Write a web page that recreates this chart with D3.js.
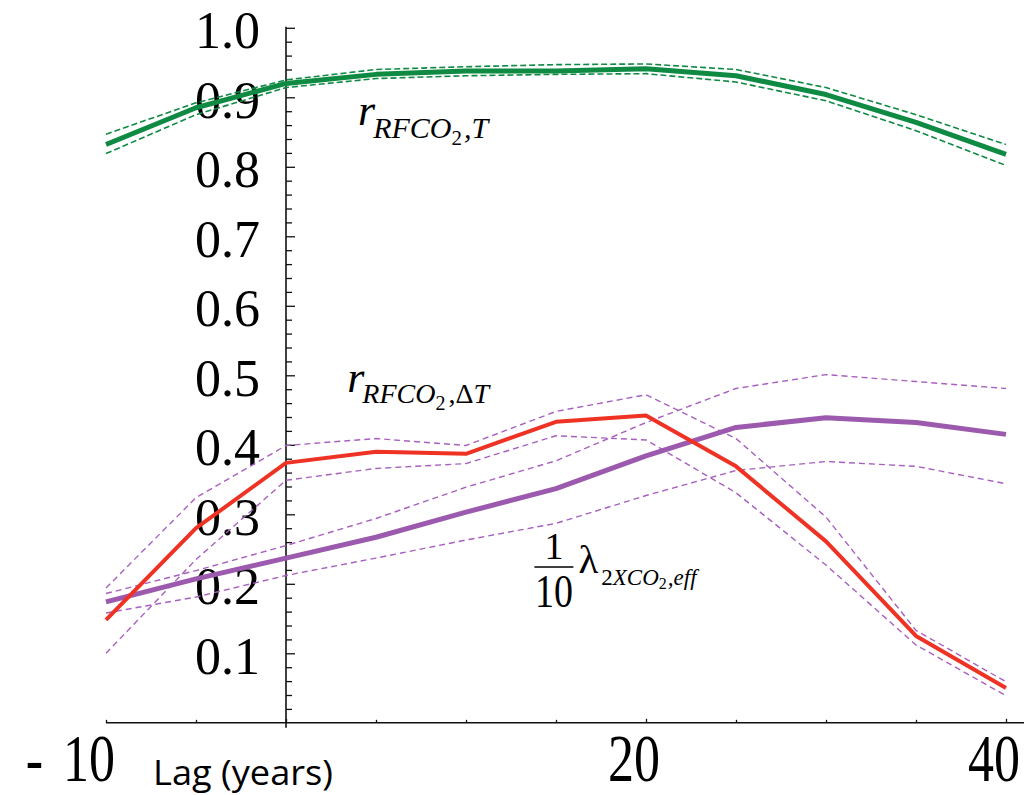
<!DOCTYPE html>
<html>
<head>
<meta charset="utf-8">
<script src="https://cdn.jsdelivr.net/npm/d3@7"></script>
<style>
  body { margin: 0; background: #fff; }
  svg { display: block; }
  .serif { font-family: "Liberation Serif", "DejaVu Serif", serif; }
</style>
</head>
<body>
<div id="chart"></div>
<script>
// lag values (years)
var lags = [-10, -5, 0, 5, 10, 15, 20, 25, 30, 35, 40];

// correlation RF_CO2 vs T, with bounds
var rT      = [0.832, 0.885, 0.920, 0.933, 0.938, 0.938, 0.941, 0.931, 0.904, 0.864, 0.818];
var rTUpper = [0.847, 0.892, 0.925, 0.940, 0.944, 0.947, 0.948, 0.940, 0.914, 0.875, 0.832];
var rTLower = [0.819, 0.875, 0.914, 0.927, 0.931, 0.933, 0.934, 0.922, 0.895, 0.852, 0.802];

// correlation RF_CO2 vs delta T, with bounds
var rDT      = [0.148, 0.280, 0.374, 0.390, 0.387, 0.433, 0.442, 0.369, 0.261, 0.125, 0.050];
var rDTUpper = [0.194, 0.324, 0.399, 0.409, 0.399, 0.448, 0.472, 0.409, 0.296, 0.133, 0.059];
var rDTLower = [0.100, 0.235, 0.349, 0.366, 0.373, 0.413, 0.407, 0.331, 0.227, 0.112, 0.039];

// 1/10 lambda_2xCO2,eff, with bounds
var lam      = [0.174, 0.207, 0.237, 0.267, 0.303, 0.337, 0.384, 0.425, 0.439, 0.432, 0.415];
var lamUpper = [0.186, 0.219, 0.255, 0.294, 0.339, 0.377, 0.432, 0.481, 0.501, 0.491, 0.481];
var lamLower = [0.158, 0.181, 0.212, 0.237, 0.263, 0.287, 0.327, 0.363, 0.376, 0.369, 0.344];

var xTickLabels = [-10, 20, 40];
var yTickLabels = [0.1, 0.2, 0.3, 0.4, 0.5, 0.6, 0.7, 0.8, 0.9, 1.0];

var svgWidth = 1024;
var svgHeight = 795;

var svg = d3.select("#chart")
  .append("svg")
  .attr("width", svgWidth)
  .attr("height", svgHeight);

var xscale = d3.scaleLinear().domain([-10, 40]).range([106, 1006]);
var yscale = d3.scaleLinear().domain([0, 1]).range([722.8, 27.8]);

var green = "#0f8a43";
var red = "#ee3224";
var purple = "#9c5aae";
var purpleDash = "#a860c0";

function series(vals) {
  return lags.map(function(l, i) { return [l, vals[i]]; });
}

var line = d3.line()
  .x(d => xscale(d[0]))
  .y(d => yscale(d[1]));

function drawLine(vals, color, width, dash) {
  svg.append("path")
    .datum(series(vals))
    .attr("fill", "none")
    .attr("stroke", color)
    .attr("stroke-width", width)
    .attr("stroke-dasharray", dash || null)
    .attr("stroke-linejoin", "round")
    .attr("d", line);
}

// axes
var axisColor = "#111";
var x0 = xscale(0);
var y0 = yscale(0);

// x axis line
svg.append("line")
  .attr("x1", xscale(-10)).attr("x2", svgWidth)
  .attr("y1", y0).attr("y2", y0)
  .attr("stroke", axisColor).attr("stroke-width", 1.6);

// y axis line
svg.append("line")
  .attr("x1", x0).attr("x2", x0)
  .attr("y1", yscale(1.0) - 1).attr("y2", y0 + 5)
  .attr("stroke", axisColor).attr("stroke-width", 1.6);

// y ticks (point right), minor every 0.02
var yMinor = d3.range(0.02, 1.001, 0.02);
svg.append("g")
  .attr("transform", `translate(${x0},0)`)
  .call(d3.axisRight(yscale).tickValues(yMinor).tickSize(6).tickFormat(""))
  .call(g => g.select(".domain").remove())
  .call(g => g.selectAll(".tick line")
    .attr("stroke", axisColor).attr("stroke-width", 1.3)
    .attr("x2", d => Math.abs(d * 10 - Math.round(d * 10)) < 1e-6 ? 9 : 6));

// y tick labels
svg.append("g")
  .attr("transform", `translate(${x0 - 26},0)`)
  .call(d3.axisLeft(yscale).tickValues(yTickLabels).tickSize(0).tickFormat(d3.format(".1f")))
  .call(g => g.select(".domain").remove())
  .call(g => g.selectAll(".tick text")
    .attr("class", "serif")
    .attr("font-size", 52)
    .attr("fill", "#000")
    .attr("dy", "20px")
    .attr("x", 0)
    .attr("text-anchor", "end"));

// x ticks (point up)
svg.append("g")
  .attr("transform", `translate(0,${y0})`)
  .call(d3.axisTop(xscale).tickValues(d3.range(-10, 41, 5)).tickSize(3).tickFormat(""))
  .call(g => g.select(".domain").remove())
  .call(g => g.selectAll(".tick line").attr("stroke", axisColor).attr("stroke-width", 1.3)
    .attr("y2", d => d % 20 === 0 ? -4 : -3));

// x tick labels (vertically stretched like the original)
var xLab = svg.append("g")
  .selectAll("text")
  .data(xTickLabels)
  .enter()
  .append("text")
  .attr("class", "serif")
  .attr("font-size", 52)
  .attr("text-anchor", "end")
  .attr("transform", d => `translate(${xscale(d) + (d < 0 ? 9 : 14)},781) scale(1,1.31)`);

xLab.filter(d => d < 0).append("tspan").text("-");
xLab.append("tspan")
  .attr("dx", d => d < 0 ? 20 : null)
  .text(d => Math.abs(d));

svg.append("text")
  .attr("x", 153)
  .attr("y", 785)
  .attr("font-family", "'Open Sans', 'Liberation Sans', sans-serif")
  .attr("font-size", 35)
  .attr("textLength", 180)
  .attr("lengthAdjust", "spacingAndGlyphs")
  .text("Lag (years)");

// series
drawLine(rTUpper, green, 1.6, "6,3");
drawLine(rTLower, green, 1.6, "6,3");
drawLine(rT, green, 5);

drawLine(lamUpper, purpleDash, 1.4, "6,4");
drawLine(lamLower, purpleDash, 1.4, "6,4");
drawLine(rDTUpper, purpleDash, 1.4, "6,4");
drawLine(rDTLower, purpleDash, 1.4, "6,4");
drawLine(lam, purple, 5);
drawLine(rDT, red, 4);

// annotations
var lab1 = svg.append("text").attr("class", "serif")
  .attr("x", xscale(4)).attr("y", yscale(0.86));
lab1.append("tspan").attr("font-style", "italic").attr("font-size", 44).text("r");
lab1.append("tspan").attr("font-style", "italic").attr("font-size", 30).attr("dx", -2).attr("dy", 13).text("RFCO");
lab1.append("tspan").attr("font-size", 21).attr("dy", 7).text("2");
lab1.append("tspan").attr("font-style", "italic").attr("font-size", 30).attr("dx", 2).attr("dy", -7).text(",T");

var lab2 = svg.append("text").attr("class", "serif")
  .attr("x", xscale(3.4)).attr("y", yscale(0.476));
lab2.append("tspan").attr("font-style", "italic").attr("font-size", 44).text("r");
lab2.append("tspan").attr("font-style", "italic").attr("font-size", 28).attr("dx", -2).attr("dy", 11).text("RFCO");
lab2.append("tspan").attr("font-size", 20).attr("dy", 7).text("2");
lab2.append("tspan").attr("font-size", 28).attr("dx", 3).attr("dy", -7).text(",");
lab2.append("tspan").attr("font-size", 28).text("Δ");
lab2.append("tspan").attr("font-style", "italic").attr("font-size", 28).text("T");

var fx = xscale(13.8);
var fy = yscale(0.224);
var lab3 = svg.append("g").attr("class", "serif");
lab3.append("text").attr("x", fx + 19.5).attr("y", fy - 8).attr("font-size", 38).attr("text-anchor", "middle").text("1");
lab3.append("line").attr("x1", fx).attr("x2", fx + 39).attr("y1", fy).attr("y2", fy).attr("stroke", "#000").attr("stroke-width", 1.5);
lab3.append("text").attr("x", fx + 19.5).attr("y", fy + 40).attr("font-size", 38).attr("text-anchor", "middle")
  .attr("transform", `translate(0,${-(fy + 40) * 0.2}) scale(1,1.2)`).text("10");
var lam3 = lab3.append("text").attr("x", fx + 44).attr("y", fy + 6);
lam3.append("tspan").attr("font-size", 41).text("λ");
lam3.append("tspan").attr("font-size", 23).attr("dx", 3).attr("dy", 12).text("2");
lam3.append("tspan").attr("font-style", "italic").attr("font-size", 23).text("XCO");
lam3.append("tspan").attr("font-size", 16).attr("dy", 4).text("2");
lam3.append("tspan").attr("font-style", "italic").attr("font-size", 23).attr("dx", 1).attr("dy", -4).text(",eff");
</script>
</body>
</html>
